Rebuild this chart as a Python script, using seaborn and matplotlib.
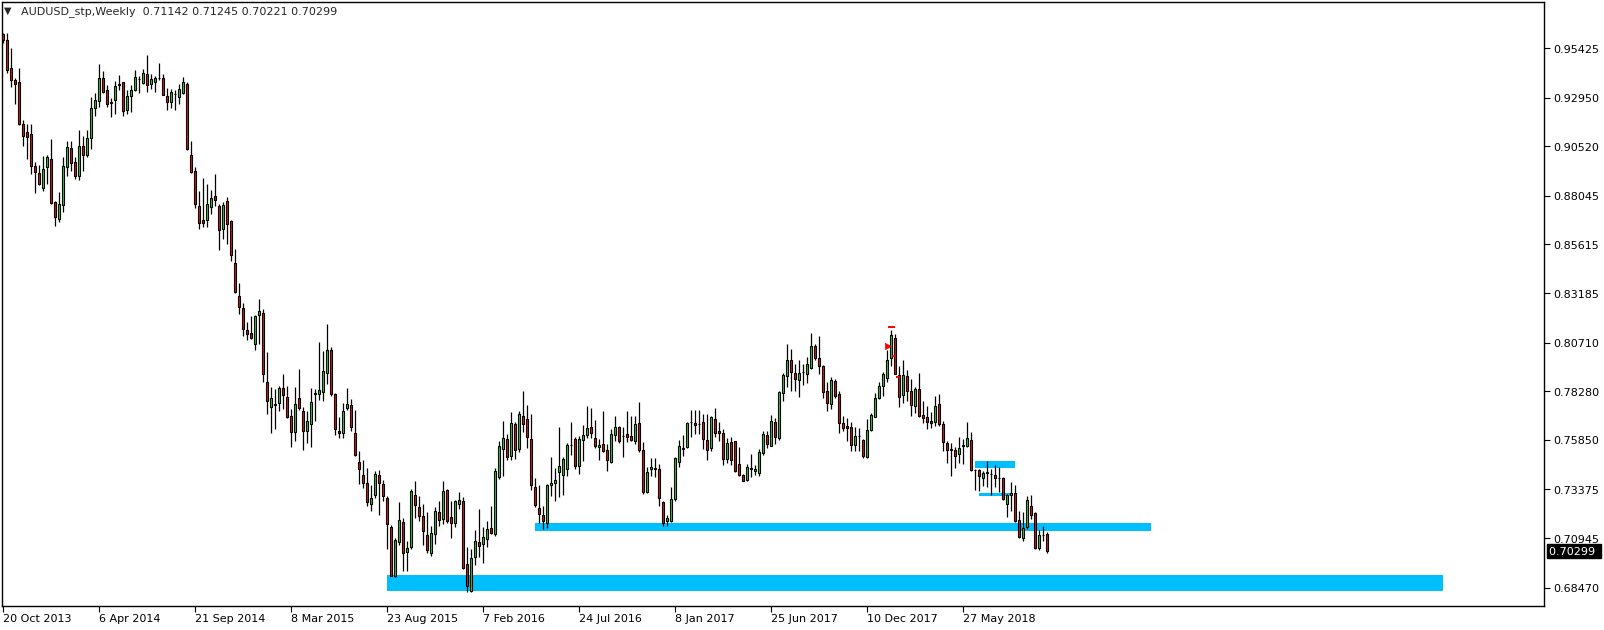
import numpy as np
import pandas as pd
import matplotlib
matplotlib.use("Agg")
import matplotlib.pyplot as plt
import matplotlib.transforms as mtransforms
import seaborn as sns

# Wochenkerzen AUDUSD, 20 Oct 2013 .. 21 Oct 2018
opens = [
    .9612, .9585, .9445, .9382, .9372, .9165, .9122, .9112, .8954, .8920,
    .8845, .8950, .8987, .8772, .8689, .8760, .8950, .9045, .8972, .8904,
    .9052, .9009, .9095, .9245, .9280, .9392, .9335, .9274, .9285, .9360,
    .9372, .9234, .9305, .9335, .9389, .9370, .9412, .9362, .9375, .9392,
    .9392, .9305, .9274, .9312, .9300, .9320, .9362, .9010, .8930, .8752,
    .8682, .8685, .8749, .8802, .8752, .8640, .8777, .8677, .8470, .8302,
    .8245, .8135, .8120, .8062, .8207, .8217, .7877, .7752, .7765, .7769,
    .7845, .7802, .7707, .7624, .7794, .7732, .7632, .7665, .7820, .7815,
    .7824, .7920, .8035, .7815, .7632, .7619, .7744, .7760, .7620, .7475,
    .7412, .7370, .7265, .7310, .7412, .7365, .7295, .7152, .6907, .7074,
    .7177, .7024, .7049, .7310, .7252, .7204, .7110, .7020, .7115, .7227,
    .7190, .7337, .7202, .7169, .7265, .7282, .6965, .6829, .6999, .7074,
    .7065, .7090, .7144, .7115, .7402, .7540, .7590, .7504, .7665, .7540,
    .7707, .7690, .7590, .7349, .7245, .7210, .7170, .7360, .7370, .7427,
    .7410, .7440, .7562, .7590, .7454, .7585, .7612, .7652, .7595, .7549,
    .7565, .7535, .7474, .7610, .7652, .7607, .7615, .7607, .7579, .7670,
    .7535, .7324, .7440, .7445, .7440, .7274, .7179, .7179, .7290, .7474,
    .7540, .7549, .7674, .7669, .7665, .7677, .7587, .7545, .7690, .7632,
    .7620, .7490, .7574, .7579, .7465, .7412, .7385, .7445, .7429, .7419,
    .7519, .7612, .7557, .7677, .7595, .7820, .7902, .7982, .7919, .7887,
    .7922, .7915, .7945, .8052, .7995, .7952, .7832, .7765, .7882, .7815,
    .7670, .7657, .7652, .7560, .7607, .7587, .7499, .7637, .7702, .7795,
    .7857, .7894, .7994, .8095, .7910, .7810, .7902, .7832, .7754, .7840,
    .7712, .7702, .7682, .7674, .7765, .7665, .7570, .7540, .7537, .7515,
    .7560, .7554, .7585, .7437, .7435, .7395, .7424, .7415, .7412, .7397,
    .7395, .7265, .7310, .7320, .7185, .7094, .7149, .7254, .7220, .7045,
    .7112, .71142]

highs = [
    .9620, .9620, .9542, .9395, .9445, .9182, .9165, .9165, .8974, .8957,
    .9004, .9007, .9087, .8780, .8825, .8999, .9079, .9079, .8999, .9132,
    .9105, .9132, .9299, .9319, .9462, .9429, .9357, .9295, .9379, .9407,
    .9375, .9332, .9357, .9435, .9405, .9440, .9507, .9412, .9404, .9470,
    .9415, .9345, .9337, .9335, .9365, .9399, .9372, .9080, .8949, .8827,
    .8895, .8862, .8832, .8912, .8762, .8774, .8799, .8685, .8540, .8369,
    .8269, .8174, .8202, .8207, .8290, .8240, .8024, .7849, .7840, .7857,
    .7912, .7857, .7740, .7849, .7937, .7749, .7732, .7845, .7840, .8074,
    .8029, .8162, .8049, .7820, .7699, .7769, .7845, .7790, .7737, .7532,
    .7485, .7445, .7360, .7429, .7435, .7385, .7307, .7162, .7095, .7277,
    .7195, .7082, .7340, .7382, .7307, .7265, .7224, .7157, .7249, .7282,
    .7382, .7340, .7282, .7285, .7327, .7299, .7049, .7040, .7135, .7240,
    .7149, .7182, .7257, .7444, .7582, .7679, .7615, .7724, .7677, .7732,
    .7832, .7762, .7715, .7395, .7360, .7257, .7365, .7502, .7444, .7649,
    .7502, .7570, .7674, .7602, .7607, .7660, .7757, .7745, .7685, .7590,
    .7732, .7565, .7640, .7707, .7657, .7649, .7732, .7707, .7707, .7777,
    .7577, .7449, .7495, .7495, .7465, .7282, .7212, .7352, .7499, .7587,
    .7612, .7677, .7735, .7735, .7735, .7715, .7715, .7707, .7745, .7677,
    .7640, .7595, .7599, .7582, .7552, .7415, .7465, .7515, .7462, .7540,
    .7632, .7629, .7712, .7695, .7832, .7919, .8062, .8040, .7965, .7982,
    .7962, .7999, .8120, .8065, .8102, .7957, .7874, .7899, .7890, .7832,
    .7704, .7695, .7674, .7649, .7645, .7590, .7690, .7719, .7819, .7874,
    .7924, .8035, .8132, .8115, .7952, .7985, .7932, .7890, .7852, .7919,
    .7782, .7757, .7724, .7807, .7815, .7682, .7582, .7569, .7549, .7602,
    .7590, .7677, .7624, .7440, .7440, .7432, .7482, .7440, .7462, .7452,
    .7398, .7315, .7374, .7362, .7232, .7227, .7307, .7312, .7224, .7135,
    .7157, .71245]

lows = [
    .9569, .9419, .9349, .9265, .9160, .9052, .8990, .8912, .8819, .8857,
    .8829, .8865, .8765, .8654, .8675, .8722, .8905, .8929, .8889, .8885,
    .8929, .8999, .9040, .9204, .9249, .9319, .9249, .9199, .9215, .9335,
    .9205, .9212, .9222, .9329, .9319, .9365, .9324, .9337, .9324, .9385,
    .9307, .9235, .9245, .9235, .9265, .9312, .9032, .8919, .8744, .8640,
    .8649, .8649, .8715, .8752, .8535, .8590, .8565, .8477, .8318, .8212,
    .8104, .8085, .8089, .8032, .8065, .7874, .7715, .7619, .7640, .7732,
    .7740, .7695, .7552, .7582, .7735, .7535, .7569, .7552, .7679, .7785,
    .7779, .7865, .7807, .7612, .7595, .7595, .7735, .7632, .7504, .7365,
    .7345, .7254, .7229, .7294, .7210, .7282, .7040, .6904, .6902, .7060,
    .6932, .6929, .7040, .7195, .7182, .7062, .7020, .7007, .7065, .7154,
    .7165, .7169, .7095, .7149, .7239, .6940, .6824, .6824, .6962, .6999,
    .6969, .7049, .7115, .7107, .7390, .7407, .7485, .7487, .7490, .7524,
    .7624, .7544, .7335, .7249, .7169, .7140, .7144, .7307, .7282, .7299,
    .7310, .7407, .7512, .7440, .7415, .7482, .7595, .7595, .7544, .7485,
    .7525, .7432, .7470, .7582, .7570, .7499, .7574, .7582, .7565, .7524,
    .7315, .7319, .7407, .7402, .7257, .7154, .7154, .7175, .7282, .7452,
    .7507, .7545, .7599, .7615, .7615, .7540, .7485, .7532, .7599, .7582,
    .7462, .7469, .7462, .7427, .7407, .7379, .7382, .7399, .7410, .7407,
    .7512, .7545, .7554, .7565, .7585, .7779, .7852, .7832, .7832, .7802,
    .7862, .7869, .7940, .7982, .7912, .7795, .7729, .7740, .7795, .7619,
    .7629, .7582, .7532, .7532, .7532, .7495, .7495, .7632, .7699, .7790,
    .7807, .7877, .7952, .7912, .7752, .7769, .7782, .7707, .7719, .7702,
    .7669, .7640, .7644, .7657, .7657, .7529, .7469, .7407, .7444, .7469,
    .7465, .7549, .7432, .7337, .7332, .7357, .7352, .7312, .7352, .7324,
    .7287, .7199, .7232, .7174, .7094, .7079, .7140, .7190, .7040, .7035,
    .7082, .70221]

closes = [
    .9585, .9435, .9382, .9365, .9165, .9105, .9099, .8954, .8924, .8864,
    .8937, .8997, .8769, .8697, .8762, .8952, .9050, .8970, .8904, .9052,
    .9009, .9095, .9245, .9282, .9392, .9324, .9265, .9270, .9355, .9364,
    .9230, .9305, .9332, .9400, .9387, .9420, .9360, .9390, .9392, .9394,
    .9309, .9274, .9322, .9314, .9340, .9375, .9039, .8924, .8765, .8669,
    .8670, .8762, .8795, .8785, .8632, .8757, .8665, .8510, .8324, .8249,
    .8140, .8115, .8095, .8202, .8230, .7915, .7779, .7795, .7760, .7844,
    .7810, .7702, .7624, .7765, .7745, .7632, .7682, .7777, .7817, .7835,
    .7927, .8035, .7815, .7640, .7619, .7729, .7765, .7649, .7512, .7440,
    .7369, .7275, .7295, .7415, .7370, .7305, .7165, .6907, .7087, .7185,
    .7020, .7045, .7329, .7260, .7204, .7132, .7035, .7119, .7229, .7185,
    .7332, .7179, .7170, .7282, .7285, .6944, .6854, .6995, .7079, .7054,
    .7099, .7140, .7120, .7429, .7554, .7595, .7499, .7670, .7535, .7715,
    .7665, .7599, .7360, .7260, .7215, .7179, .7360, .7372, .7385, .7455,
    .7490, .7562, .7560, .7457, .7590, .7610, .7645, .7619, .7554, .7560,
    .7529, .7485, .7615, .7652, .7582, .7604, .7599, .7587, .7665, .7535,
    .7324, .7424, .7452, .7439, .7295, .7170, .7195, .7290, .7495, .7554,
    .7545, .7669, .7677, .7660, .7664, .7590, .7535, .7699, .7620, .7620,
    .7490, .7570, .7487, .7432, .7412, .7382, .7452, .7440, .7440, .7524,
    .7615, .7565, .7682, .7599, .7824, .7910, .7982, .7924, .7890, .7920,
    .7925, .7965, .8052, .7995, .7954, .7824, .7770, .7885, .7807, .7669,
    .7645, .7645, .7560, .7607, .7605, .7504, .7637, .7712, .7795, .7857,
    .7912, .7982, .8107, .7915, .7799, .7907, .7832, .7760, .7840, .7707,
    .7695, .7674, .7669, .7757, .7665, .7574, .7535, .7535, .7504, .7545,
    .7554, .7595, .7435, .7435, .7404, .7420, .7422, .7414, .7395, .7395,
    .7290, .7312, .7322, .7182, .7099, .7145, .7285, .7210, .7044, .7110,
    .7110, .70299]

# Datumsbeschriftung (alle 24 Wochen)
date_labels = ["20 Oct 2013", "6 Apr 2014", "21 Sep 2014", "8 Mar 2015",
               "23 Aug 2015", "7 Feb 2016", "24 Jul 2016", "8 Jan 2017",
               "25 Jun 2017", "10 Dec 2017", "27 May 2018"]
date_weeks = [0, 24, 48, 72, 96, 120, 144, 168, 192, 216, 240]

price_ticks = [0.95425, 0.92950, 0.90520, 0.88045, 0.85615, 0.83185,
               0.80710, 0.78280, 0.75850, 0.73375, 0.70945, 0.68470]

# Zonen (Rechtecke): Startwoche, Endwoche, unten, oben
zone_start = [96, 133, 243, 244]
zone_end = [360, 287, 253, 252.5]
zone_low = [0.6832, 0.7132, 0.7444, 0.7307]
zone_high = [0.6912, 0.7172, 0.7482, 0.7322]

# Handelsmarkierungen (rot)
mark_weeks = [221.3]
mark_prices = [0.8055]
dash_weeks = [(221.2, 223.0), (222.3, 222.9), (223.3, 223.9)]
dash_prices = [0.8149, 0.8006, 0.7900]

GREEN = "#14e014"
RED = "#e01414"
BLUE = "#00BFFF"
FS = 8

sns.set_style("white")
plt.rcParams["font.family"] = ["DejaVu Sans"]

df = pd.DataFrame({"open": opens, "high": highs, "low": lows, "close": closes})
df["week"] = np.arange(len(df))
df["up"] = df["close"] > df["open"]

fig = plt.figure(figsize=(16.04, 6.305), dpi=100)
ax = fig.add_axes([2 / 1604, 24 / 630, 1542 / 1604, 604 / 630])

for s, e, lo, hi in zip(zone_start, zone_end, zone_low, zone_high):
    ax.fill_between([s, e], lo, hi, color=BLUE, lw=0, zorder=1)

ax.vlines(df["week"], df["low"], df["high"], color="black", lw=0.9, zorder=2)
ax.bar(df["week"], (df["close"] - df["open"]).abs(),
       bottom=df[["open", "close"]].min(axis=1), width=0.55,
       color=np.where(df["up"], GREEN, RED), edgecolor="black",
       linewidth=0.8, zorder=3)

for (x0, x1), p in zip(dash_weeks, dash_prices):
    ax.hlines(p, x0, x1, color="red", lw=1.4, zorder=4)
sns.scatterplot(x=mark_weeks, y=mark_prices, marker=">", s=22, color="red",
                edgecolor="red", ax=ax, zorder=4)

ax.set_xlim(-0.25, 385.25)
ax.set_ylim(0.67555, 0.97755)

ax.set_xticks(date_weeks)
ax.set_xticklabels(date_labels)
for t in ax.get_xticklabels():
    t.set_ha("left")
ax.tick_params(axis="x", bottom=True, direction="out", length=4, width=0.8,
               pad=1.5, labelsize=FS, colors="black")

ax.yaxis.tick_right()
ax.set_yticks(price_ticks)
ax.set_yticklabels([f"{v:.5f}" for v in price_ticks])
ax.tick_params(axis="y", right=True, left=False, direction="out", length=4,
               width=0.8, pad=3, labelsize=FS, colors="black")
ax.set_xlabel("")
ax.set_ylabel("")

for sp in ax.spines.values():
    sp.set_color("black")
    sp.set_linewidth(1.0)
    sp.set_visible(True)

# Kopfzeile
ax.text(0.0015, 0.985, "\u25BC", transform=ax.transAxes, fontsize=7,
        va="center", ha="left")
ax.text(0.0120, 0.985,
        f"AUDUSD_stp,Weekly  {opens[-1]:.5f} {highs[-1]:.5f} {lows[-1]:.5f} {closes[-1]:.5f}",
        transform=ax.transAxes, fontsize=FS, va="center", ha="left")

# aktueller Kurs
trans = mtransforms.blended_transform_factory(ax.transAxes, ax.transData)
ax.text(1.0035, closes[-1], f"{closes[-1]:.5f} ", transform=trans,
        color="white", fontsize=FS, va="center", ha="left", clip_on=False,
        bbox=dict(boxstyle="square,pad=0.2", fc="black", ec="black"), zorder=5)

fig.savefig("out.png", dpi=100, facecolor="white")
